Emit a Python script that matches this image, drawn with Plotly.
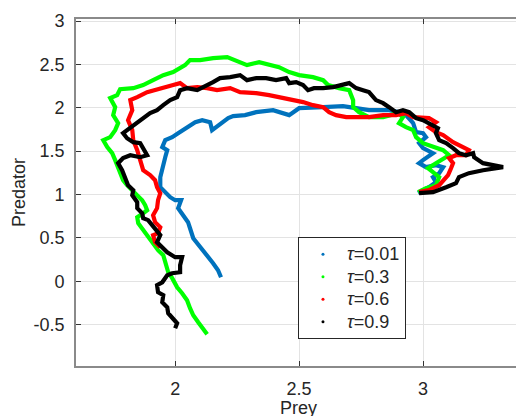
import plotly.graph_objects as go

# Prey / predator trajectories for four values of tau (prey, predator) pairs
tau_001 = [
    (2.185, 0.046), (2.173, 0.127), (2.153, 0.208), (2.121, 0.323), (2.093, 0.415),
    (2.073, 0.496), (2.060, 0.611), (2.052, 0.681), (2.032, 0.761), (2.012, 0.842),
    (2.024, 0.934), (2.000, 0.934), (1.980, 0.969), (1.960, 1.027), (1.940, 1.084),
    (1.940, 1.200), (1.952, 1.315), (1.960, 1.430), (1.968, 1.511), (1.948, 1.546),
    (1.960, 1.626), (1.988, 1.661), (2.012, 1.707), (2.032, 1.742), (2.060, 1.799),
    (2.081, 1.834), (2.109, 1.857), (2.141, 1.834), (2.149, 1.742), (2.190, 1.834),
    (2.214, 1.880), (2.234, 1.903), (2.282, 1.915), (2.327, 1.949), (2.395, 1.972),
    (2.460, 1.915), (2.500, 1.995), (2.597, 2.007), (2.677, 2.018), (2.730, 1.995),
    (2.782, 1.972), (2.863, 1.972), (2.903, 1.949), (2.931, 1.915), (2.960, 1.822),
    (2.972, 1.719), (3.000, 1.707), (3.012, 1.661), (2.984, 1.592), (3.000, 1.534),
    (3.040, 1.476), (3.000, 1.396), (2.984, 1.361), (3.012, 1.315), (3.052, 1.338),
    (3.081, 1.315), (3.065, 1.246), (3.040, 1.200), (3.052, 1.142), (3.024, 1.084),
    (3.000, 1.050), (2.980, 1.015),
]

tau_03 = [
    (2.980, 1.027), (3.012, 1.073), (3.052, 1.107), (3.065, 1.200), (3.040, 1.257),
    (3.020, 1.303), (3.052, 1.361), (3.081, 1.419), (3.105, 1.453), (3.081, 1.511),
    (3.040, 1.546), (3.000, 1.592), (2.972, 1.661), (2.960, 1.742), (2.931, 1.776),
    (2.903, 1.822), (2.919, 1.892), (2.899, 1.938), (2.839, 1.892), (2.782, 1.892),
    (2.742, 1.949), (2.718, 2.007), (2.718, 2.088), (2.702, 2.203), (2.661, 2.226),
    (2.617, 2.261), (2.597, 2.318), (2.556, 2.353), (2.500, 2.376), (2.460, 2.411),
    (2.419, 2.468), (2.379, 2.491), (2.339, 2.526), (2.290, 2.491), (2.234, 2.549),
    (2.210, 2.584), (2.153, 2.572), (2.101, 2.549), (2.060, 2.549), (2.040, 2.491),
    (1.992, 2.411), (1.952, 2.376), (1.911, 2.318), (1.871, 2.261), (1.831, 2.226),
    (1.778, 2.214), (1.766, 2.145), (1.738, 2.111), (1.758, 2.007), (1.750, 1.915),
    (1.770, 1.822), (1.758, 1.742), (1.738, 1.661), (1.710, 1.626), (1.726, 1.546),
    (1.746, 1.476), (1.758, 1.396), (1.770, 1.315), (1.778, 1.246), (1.790, 1.165),
    (1.806, 1.107), (1.827, 1.050), (1.847, 0.992), (1.867, 0.934), (1.879, 0.877),
    (1.887, 0.819), (1.871, 0.784), (1.847, 0.738), (1.851, 0.669), (1.871, 0.588),
    (1.891, 0.507), (1.911, 0.438), (1.931, 0.358), (1.952, 0.300), (1.960, 0.208),
    (1.972, 0.104), (1.988, 0.035), (2.008, -0.069), (2.028, -0.138), (2.048, -0.219),
    (2.060, -0.311), (2.073, -0.392), (2.093, -0.473), (2.113, -0.542), (2.129, -0.611),
]

tau_06 = [
    (2.984, 1.027), (3.024, 1.050), (3.065, 1.107), (3.081, 1.165), (3.101, 1.223),
    (3.113, 1.303), (3.121, 1.361), (3.105, 1.419), (3.133, 1.453), (3.173, 1.453),
    (3.185, 1.511), (3.161, 1.546), (3.121, 1.603), (3.081, 1.684), (3.052, 1.719),
    (3.024, 1.776), (3.052, 1.834), (3.024, 1.880), (2.984, 1.880), (2.960, 1.892),
    (2.931, 1.938), (2.891, 1.915), (2.839, 1.915), (2.782, 1.892), (2.730, 1.892),
    (2.690, 1.892), (2.649, 1.915), (2.621, 1.949), (2.597, 2.007), (2.556, 2.030),
    (2.516, 2.065), (2.476, 2.088), (2.435, 2.122), (2.379, 2.145), (2.327, 2.168),
    (2.262, 2.180), (2.222, 2.226), (2.169, 2.203), (2.129, 2.226), (2.089, 2.238),
    (2.048, 2.226), (2.020, 2.284), (1.992, 2.261), (1.940, 2.226), (1.887, 2.180),
    (1.847, 2.122), (1.819, 2.088), (1.827, 1.972), (1.810, 1.857), (1.827, 1.742),
    (1.831, 1.626), (1.847, 1.511), (1.859, 1.396), (1.871, 1.280), (1.899, 1.223),
    (1.919, 1.165), (1.927, 1.084), (1.940, 1.015), (1.931, 0.934), (1.927, 0.842),
    (1.911, 0.761), (1.919, 0.681), (1.940, 0.623), (1.931, 0.554), (1.911, 0.531),
    (1.919, 0.450), (1.940, 0.392),
]

tau_09 = [
    (2.984, 1.015), (3.040, 1.027), (3.093, 1.084), (3.133, 1.130), (3.145, 1.200),
    (3.185, 1.246), (3.242, 1.280), (3.294, 1.303), (3.323, 1.315), (3.282, 1.338),
    (3.242, 1.361), (3.206, 1.430), (3.202, 1.476), (3.173, 1.453), (3.145, 1.476),
    (3.121, 1.534), (3.093, 1.592), (3.065, 1.626), (3.052, 1.707), (3.060, 1.765),
    (3.024, 1.822), (3.000, 1.857), (2.972, 1.880), (2.944, 1.949), (2.919, 1.972),
    (2.891, 1.949), (2.863, 2.007), (2.839, 2.053), (2.810, 2.088), (2.790, 2.145),
    (2.782, 2.180), (2.758, 2.203), (2.730, 2.226), (2.702, 2.284), (2.669, 2.261),
    (2.637, 2.238), (2.597, 2.226), (2.560, 2.226), (2.536, 2.203), (2.516, 2.261),
    (2.488, 2.295), (2.460, 2.284), (2.448, 2.341), (2.407, 2.318), (2.367, 2.341),
    (2.327, 2.341), (2.290, 2.318), (2.262, 2.376), (2.222, 2.353), (2.181, 2.341),
    (2.153, 2.295), (2.113, 2.238), (2.089, 2.203), (2.048, 2.226), (2.020, 2.203),
    (2.008, 2.122), (1.980, 2.088), (1.952, 2.030), (1.927, 1.972), (1.899, 1.938),
    (1.871, 1.880), (1.847, 1.822), (1.819, 1.765), (1.790, 1.707), (1.806, 1.649),
    (1.831, 1.603), (1.859, 1.592), (1.871, 1.534), (1.887, 1.453), (1.859, 1.430),
    (1.819, 1.453), (1.790, 1.419), (1.770, 1.361), (1.786, 1.280), (1.798, 1.188),
    (1.810, 1.107), (1.831, 1.050), (1.827, 0.992), (1.847, 0.911), (1.847, 0.842),
    (1.867, 0.784), (1.871, 0.727), (1.891, 0.704), (1.907, 0.646), (1.927, 0.588),
    (1.940, 0.531), (1.927, 0.450), (1.948, 0.392), (1.968, 0.334), (2.000, 0.277),
    (2.028, 0.277), (2.020, 0.185), (2.020, 0.104), (1.988, 0.092), (1.968, 0.069),
    (1.948, -0.012), (1.927, -0.046), (1.931, -0.127), (1.952, -0.161), (1.948, -0.242),
    (1.968, -0.300), (1.972, -0.369), (1.992, -0.427), (2.008, -0.484), (2.000, -0.542),
]

series_names = ["0.01", "0.3", "0.6", "0.9"]
series_data = [tau_001, tau_03, tau_06, tau_09]
series_colors = ["#0072BD", "#00FF00", "#FF0000", "#000000"]

x_ticks = [2, 2.5, 3]
x_labels = ["2", "2.5", "3"]
y_ticks = [-0.5, 0, 0.5, 1, 1.5, 2, 2.5, 3]
y_labels = ["-0.5", "0", "0.5", "1", "1.5", "2", "2.5", "3"]

FONT = "Liberation Sans, Arial, sans-serif"
AXIS_COL = "#8a8a8a"
TEXT_COL = "#262626"

fig = go.Figure()

for name, pts, col in zip(series_names, series_data, series_colors):
    fig.add_trace(go.Scatter(
        x=[p[0] for p in pts], y=[p[1] for p in pts],
        mode="lines", line=dict(color=col, width=4.2),
        showlegend=False, hoverinfo="skip",
    ))

# legend entries drawn as small dots, like the point markers of the trajectories
for name, col in zip(series_names, series_colors):
    fig.add_trace(go.Scatter(
        x=[None], y=[None], mode="markers",
        marker=dict(color=col, size=3),
        name=f'<span style="font-size:18px"><i>τ</i>=' + name + "</span>",
        showlegend=True,
    ))

fig.update_layout(
    width=516, height=416,
    margin=dict(l=76, r=0, t=19, b=50, autoexpand=False),
    paper_bgcolor="white", plot_bgcolor="white",
    font=dict(family=FONT, size=18, color=TEXT_COL),
    legend=dict(
        x=0.5045, y=0.372, xanchor="left", yanchor="top",
        bgcolor="white", bordercolor=TEXT_COL, borderwidth=1,
        font=dict(family=FONT, size=15, color=TEXT_COL),
        itemsizing="trace", itemwidth=38,
    ),
    xaxis=dict(
        range=[1.6, 3.375], tickvals=x_ticks, ticktext=x_labels,
        showgrid=True, gridcolor="#e3e3e3", gridwidth=1,
        showline=True, linecolor=AXIS_COL, linewidth=1.6, mirror="ticks",
        ticks="inside", ticklen=5, tickcolor="#333333", tickwidth=1,
        tickfont=dict(family=FONT, size=18, color=TEXT_COL),
        ticklabelstandoff=6, automargin=False,
        zeroline=False,
    ),
    yaxis=dict(
        range=[-0.977, 3.023], tickvals=y_ticks, ticktext=y_labels,
        showgrid=True, gridcolor="#e3e3e3", gridwidth=1,
        showline=True, linecolor=AXIS_COL, linewidth=1.6, mirror=False,
        ticks="inside", ticklen=5, tickcolor="#333333", tickwidth=1,
        tickfont=dict(family=FONT, size=18, color=TEXT_COL),
        ticklabelstandoff=6, automargin=False,
        zeroline=False,
        title=dict(text="Predator", font=dict(family=FONT, size=18, color=TEXT_COL), standoff=3),
    ),
    annotations=[dict(
        text="Prey", xref="paper", yref="paper", x=0.506, y=-0.086,
        xanchor="center", yanchor="top", showarrow=False,
        font=dict(family=FONT, size=18, color=TEXT_COL),
    )],
)

fig.write_html("out.html")
